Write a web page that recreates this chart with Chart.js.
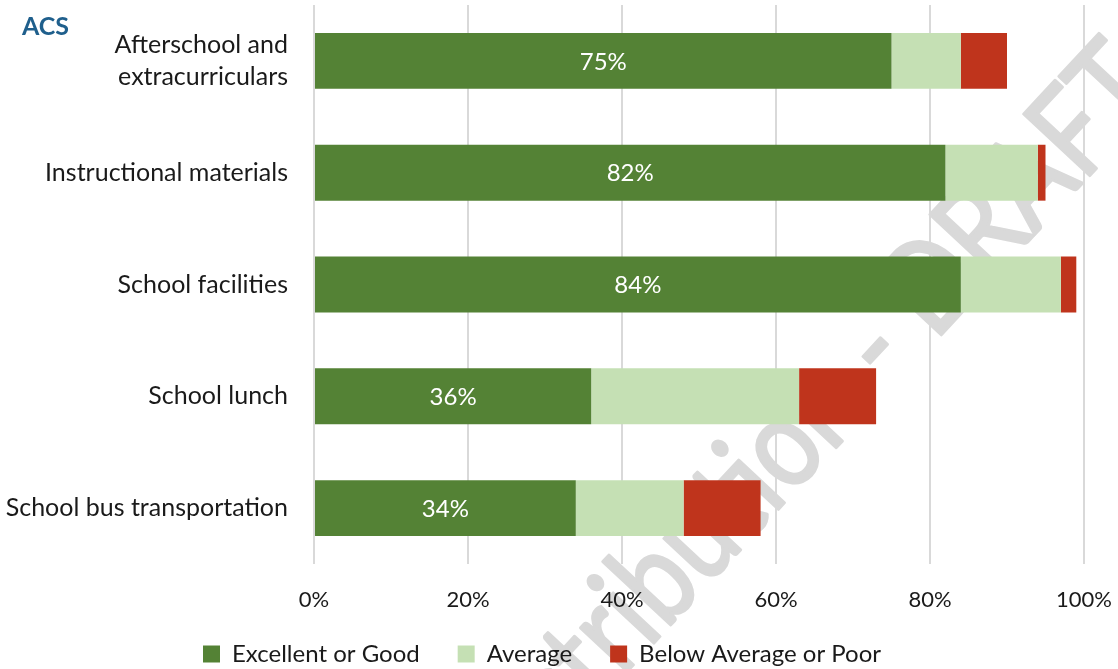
<!DOCTYPE html>
<html>
<head>
<meta charset="utf-8">
<script src="https://cdn.jsdelivr.net/npm/chart.js@4"></script>
<style>
  html, body { margin: 0; padding: 0; background: #fff; }
  #wrap { position: relative; width: 1118px; height: 669px; }
  #tag { position: absolute; left: 22px; top: 10px; font: bold 25px Lato, sans-serif; color: #1f5f8c; }
</style>
</head>
<body>
<div id="wrap">
  <canvas id="chart" width="1118" height="669"></canvas>
  <div id="tag">ACS</div>
</div>
<script>
const categories = [
    ['Afterschool and', 'extracurriculars'],
    'Instructional materials',
    'School facilities',
    'School lunch',
    'School bus transportation'
];
const excellentGood = [75, 82, 84, 36, 34];
const average = [9, 12, 13, 27, 14];
const belowAveragePoor = [6, 1, 2, 10, 10];
const xTicks = [0, 20, 40, 60, 80, 100];

const FONT = 'Lato, sans-serif';

const watermark = {
    id: 'watermark',
    beforeDraw(chart) {
        const ctx = chart.ctx;
        const size = 126;
        ctx.save();
        ctx.font = size + 'px ' + FONT;
        // squeeze the text a bit so the hyphen-to-F spacing matches the picture
        const d = ctx.measureText(' DRA').width + ctx.measureText('-').width / 2 + ctx.measureText('F').width / 2;
        const sx = 294 / d;
        const p = ctx.measureText('Distribution ').width + ctx.measureText('-').width / 2;
        ctx.translate(877, 352);
        ctx.rotate(-47 * Math.PI / 180);
        ctx.scale(sx, 1);
        ctx.fillStyle = '#d9d9d9';
        ctx.strokeStyle = '#d9d9d9';
        ctx.lineWidth = 3;
        ctx.lineJoin = 'round';
        ctx.textAlign = 'left';
        ctx.textBaseline = 'alphabetic';
        ctx.fillText('Distribution - DRAFT', -p, size * 0.28);
        ctx.strokeText('Distribution - DRAFT', -p, size * 0.28);
        ctx.restore();
    }
};

const barLabels = {
    id: 'barLabels',
    afterDatasetsDraw(chart) {
        const ctx = chart.ctx;
        const meta = chart.getDatasetMeta(0);
        ctx.save();
        ctx.font = '24px ' + FONT;
        ctx.fillStyle = '#ffffff';
        ctx.textAlign = 'center';
        ctx.textBaseline = 'middle';
        meta.data.forEach((bar, i) => {
            ctx.fillText(excellentGood[i] + '%', (bar.x + bar.base) / 2, bar.y + 1);
        });
        ctx.restore();
    }
};

// tick labels are clipped to the axis box, let them run into the legend area
const unclipX = {
    id: 'unclipX',
    afterLayout(chart) {
        chart.scales.x.bottom = chart.height;
    }
};

const ctx = document.getElementById('chart').getContext('2d');
new Chart(ctx, {
    type: 'bar',
    data: {
        labels: categories,
        datasets: [{
            label: 'Excellent or Good',
            data: excellentGood,
            backgroundColor: '#548235'
        }, {
            label: 'Average',
            data: average,
            backgroundColor: '#c5e0b4'
        }, {
            label: 'Below Average or Poor',
            data: belowAveragePoor,
            backgroundColor: '#bf341c'
        }]
    },
    options: {
        indexAxis: 'y',
        responsive: false,
        animation: false,
        datasets: {
            bar: { barPercentage: 0.5, categoryPercentage: 1 }
        },
        layout: { padding: { top: 5, right: 34, bottom: -7, left: 0 } },
        scales: {
            x: {
                stacked: true,
                min: 0,
                max: 100,
                afterBuildTicks(scale) {
                    scale.ticks = xTicks.map(v => ({ value: v }));
                },
                afterFit(scale) {
                    scale.height = 40;
                    scale.paddingLeft = 0;
                    scale.paddingRight = 0;
                },
                grid: { color: '#d9d9d9', lineWidth: 2, drawTicks: false },
                border: { display: false },
                ticks: {
                    padding: 23,
                    color: '#1a1a1a',
                    font: { family: FONT, size: 22 },
                    callback: v => v + '%'
                }
            },
            y: {
                stacked: true,
                grid: { display: false, drawTicks: false },
                border: { display: false },
                afterFit(scale) {
                    scale.width = 314;
                    scale.paddingTop = 0;
                    scale.paddingBottom = 0;
                },
                ticks: {
                    padding: 26,
                    color: '#1a1a1a',
                    font: { family: FONT, size: 25, lineHeight: 1.28 }
                }
            }
        },
        plugins: {
            legend: {
                position: 'bottom',
                labels: {
                    boxWidth: 17,
                    boxHeight: 17,
                    padding: 38,
                    color: '#1a1a1a',
                    font: { family: FONT, size: 24 }
                }
            },
            tooltip: { enabled: false }
        }
    },
    plugins: [watermark, barLabels, unclipX]
});
</script>
</body>
</html>
